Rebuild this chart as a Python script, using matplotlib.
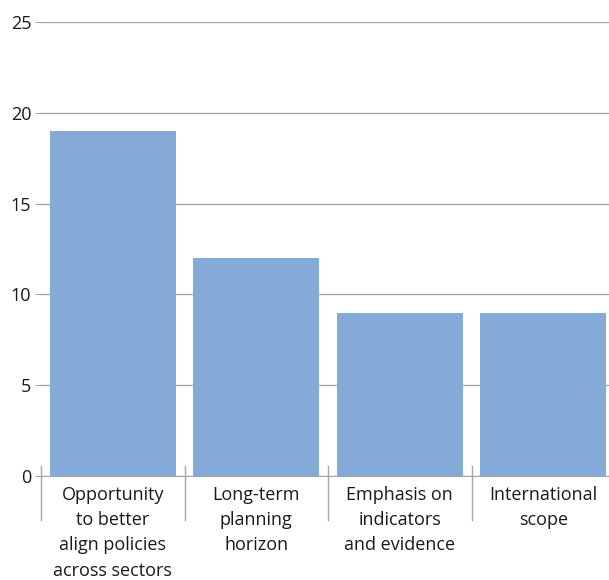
import numpy as np
import matplotlib
matplotlib.use('Agg')
import matplotlib.pyplot as plt
import matplotlib.transforms as mtransforms

# data
categories = ['Opportunity\nto better\nalign policies\nacross sectors',
              'Long-term\nplanning\nhorizon',
              'Emphasis on\nindicators\nand evidence',
              'International\nscope']
values = [19, 12, 9, 9]
yticks = [0, 5, 10, 15, 20, 25]

plt.rcParams['font.family'] = ['Open Sans', 'DejaVu Sans']

fig = plt.figure(figsize=(6.09, 5.8), dpi=100)
ax = fig.add_axes([41/609, 1 - 476/580, (615 - 41)/609, (476 - 22)/580])

x = np.arange(len(categories))
ax.bar(x, values, width=0.88, color='#84abd8', zorder=2)

ax.set_xlim(-0.5, len(categories) - 0.5)
ax.set_ylim(0, 25)
ax.set_yticks(yticks)
ax.grid(axis='y', color='#a6a6a6', linewidth=1, zorder=0)
ax.tick_params(axis='y', length=4, color='#a6a6a6', labelsize=13, pad=3)

for s in ['top', 'right', 'left']:
    ax.spines[s].set_visible(False)
ax.spines['bottom'].set_color('#a6a6a6')
ax.spines['bottom'].set_zorder(3)

ax.set_xticks(x)
ax.set_xticklabels(categories, fontsize=13, linespacing=1.52, color='#1a1a1a')
ax.tick_params(axis='x', length=0, pad=7)
for lab in ax.get_yticklabels():
    lab.set_color('#1a1a1a')

# category separators
trans = mtransforms.blended_transform_factory(ax.transData, fig.transFigure)
for b in np.arange(len(categories) + 1) - 0.5:
    ax.plot([b, b], [1 - 466/580, 1 - 520/580], color='#a6a6a6', linewidth=1,
            transform=trans, clip_on=False, zorder=3)

fig.savefig('out.png', dpi=100)
